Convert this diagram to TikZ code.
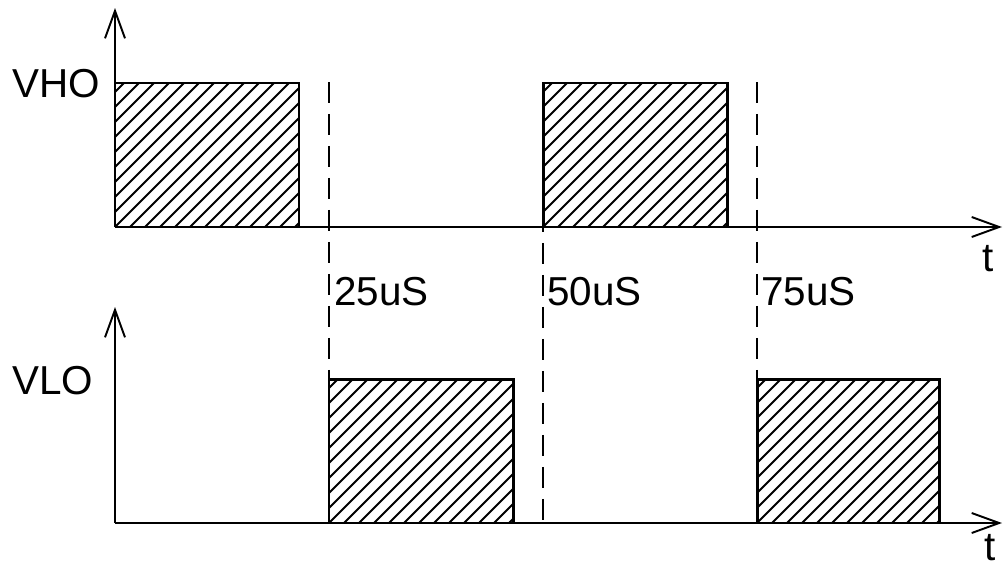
\documentclass[tikz,border=0pt]{standalone}
\usepackage{fontspec}
\setmainfont{Liberation Sans}
\usetikzlibrary{arrows.meta}

% hatched pulse: x1 y1 x2 y2 (top left, bottom right)
\newcommand{\hatchpulse}[4]{%
  \begin{scope}
    \clip (#1,#2) rectangle (#3,#4);
    \foreach \s in {0,15,...,345}
      \draw[hatch] (#1-150+\s,#4) -- ++(200,-200);
  \end{scope}
  \draw[pulse] (#1,#4) |- (#3,#2) -- (#3,#4);
}

\begin{document}
\begin{tikzpicture}[x=0.02cm, y=-0.02cm,
    axis/.style = {line width=1.3pt, -{Straight Barb[length=0.55cm, width=0.4cm, line width=1.1pt]}},
    pulse/.style = {line width=1.7pt},
    hatch/.style = {line width=1.1pt},
    timeline/.style = {line width=1.2pt, dash pattern=on 0.42cm off 0.22cm},
    lbl/.style = {inner sep=0pt, anchor=west, font=\fontsize{23}{27}\selectfont}]
  \useasboundingbox (0,0) rectangle (1003,568);

  % time markers
  \draw[timeline] (329,82) -- (329,523);
  \draw[timeline] (543,83) -- (543,523);
  \draw[timeline] (757,82) -- (757,523);

  % upper signal
  \hatchpulse{115}{83}{299}{227}
  \hatchpulse{543}{83}{727}{227}
  \draw[axis] (115,227) -- (115,8);
  \draw[axis] (115,227) -- (1002,227);

  % lower signal
  \hatchpulse{329}{379}{513}{523}
  \hatchpulse{757}{379}{939}{523}
  \draw[axis] (115,523) -- (115,307);
  \draw[axis] (115,523) -- (1002,523);

  \node[lbl] (vho) at (12,84) {VHO};
  \node[lbl] (vlo) at (12,381) {VLO};
  \node[lbl] (t25) at (334,292) {25uS};
  \node[lbl] (t50) at (547,292) {50uS};
  \node[lbl] (t75) at (761,292) {75uS};
  \node[lbl] (tup) at (982,259) {t};
  \node[lbl] (tlo) at (984,548) {t};
\end{tikzpicture}
\end{document}
